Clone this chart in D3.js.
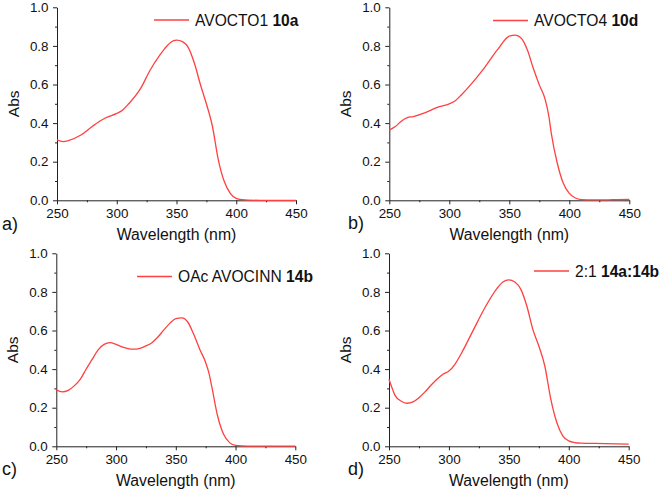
<!DOCTYPE html>
<html><head><meta charset="utf-8">
<script src="https://cdn.jsdelivr.net/npm/d3@7"></script>
<style>
html,body{margin:0;padding:0;background:#fff;}
svg{display:block;font-family:"Liberation Sans",Arial,sans-serif;}
</style></head>
<body>
<svg id="chart" width="661" height="493"></svg>
<script>
// ---- data ----
const wlA = [250,255,260,270,280,290,300,305,310,320,328,336,340,345,350,355,360,365,370,375,380,385,390,395,400,405,410,420,430,440,450];
const absA = [0.313,0.304,0.310,0.338,0.385,0.425,0.450,0.468,0.500,0.580,0.675,0.752,0.785,0.818,0.830,0.822,0.790,0.710,0.600,0.500,0.385,0.210,0.097,0.036,0.010,0.003,0.001,0.000,0.000,0.000,0.000];

const wlB = [250,255,260,265,270,280,290,300,305,310,320,330,340,350,355,360,365,370,375,380,383,385,390,395,400,405,410,420,430,440,450];
const absB = [0.364,0.382,0.410,0.428,0.434,0.454,0.482,0.500,0.516,0.546,0.615,0.693,0.779,0.851,0.856,0.840,0.780,0.684,0.598,0.520,0.434,0.347,0.192,0.088,0.036,0.012,0.004,0.002,0.002,0.004,0.005];

const wlC = [250,255,260,265,270,275,280,285,290,295,300,305,310,315,320,325,330,335,340,345,350,355,360,365,370,375,378,380,385,390,395,400,410,420,430,440,450];
const absC = [0.292,0.282,0.290,0.313,0.347,0.400,0.450,0.500,0.528,0.537,0.528,0.515,0.506,0.503,0.508,0.520,0.537,0.566,0.603,0.637,0.661,0.665,0.644,0.580,0.503,0.434,0.373,0.313,0.157,0.062,0.019,0.005,0.001,0.001,0.001,0.001,0.001];

const wlD = [250,253,255,260,265,270,275,280,285,290,295,300,305,310,320,330,340,345,350,355,360,365,370,375,380,385,390,395,400,405,410,430,450];
const absD = [0.347,0.295,0.264,0.235,0.223,0.230,0.252,0.282,0.316,0.347,0.373,0.390,0.425,0.477,0.598,0.718,0.817,0.851,0.862,0.851,0.813,0.727,0.606,0.520,0.416,0.244,0.123,0.054,0.028,0.019,0.016,0.014,0.011];

const xTicks = [250,300,350,400,450];
const xMinor = [275,325,375,425];
const yTicks = [0,0.2,0.4,0.6,0.8,1.0];
const yMinor = [0.1,0.3,0.5,0.7,0.9];
const xTitle = "Wavelength (nm)";
const yTitle = "Abs";

const panels = [
  {wl: wlA, abs: absA, name: "AVOCTO1 ", bold: "10a", tag: "a)"},
  {wl: wlB, abs: absB, name: "AVOCTO4 ", bold: "10d", tag: "b)"},
  {wl: wlC, abs: absC, name: "OAc AVOCINN ", bold: "14b", tag: "c)"},
  {wl: wlD, abs: absD, name: "2:1 ", bold: "14a:14b", tag: "d)"}
];

// ---- layout ----
const layout = [
  {x0: 57,    x1: 296,   y0: 200.3, y1: 7.3,   legX: 154, legY: 20,  tagX: 2,   tagY: 230},
  {x0: 389.3, x1: 629.3, y0: 200.3, y1: 7.3,   legX: 493, legY: 20.5, tagX: 348, tagY: 229},
  {x0: 56.3,  x1: 295.3, y0: 446.3, y1: 253.3, legX: 137, legY: 276.5, tagX: 2,  tagY: 475},
  {x0: 389,   x1: 628.7, y0: 446.3, y1: 253.3, legX: 534, legY: 271, tagX: 348, tagY: 475}
];

const svg = d3.select("#chart");
const red = "#ff4040";

panels.forEach((p, i) => {
  const L = layout[i];
  const x = d3.scaleLinear().domain([250, 450]).range([L.x0, L.x1]);
  const y = d3.scaleLinear().domain([0, 1]).range([L.y0, L.y1]);
  const g = svg.append("g");

  // minor ticks
  g.append("g").attr("transform", `translate(0,${L.y0})`)
    .call(d3.axisBottom(x).tickValues(xMinor).tickSize(2).tickSizeOuter(0).tickFormat(""))
    .call(a => a.select(".domain").remove());
  g.append("g").attr("transform", `translate(${L.x0},0)`)
    .call(d3.axisLeft(y).tickValues(yMinor).tickSize(2).tickSizeOuter(0).tickFormat(""))
    .call(a => a.select(".domain").remove());

  const xa = g.append("g").attr("transform", `translate(0,${L.y0})`)
    .call(d3.axisBottom(x).tickValues(xTicks).tickSize(4).tickSizeOuter(0).tickPadding(4.5).tickFormat(d3.format("d")));
  const ya = g.append("g").attr("transform", `translate(${L.x0},0)`)
    .call(d3.axisLeft(y).tickValues(yTicks).tickSize(4).tickSizeOuter(0).tickPadding(4.5).tickFormat(d3.format(".1f")));
  [xa, ya].forEach(a => {
    a.selectAll("text").attr("font-size", "13.4px").attr("fill", "#111").attr("font-family", "Liberation Sans, Arial, sans-serif");
    a.selectAll("line,path").attr("stroke", "#222").attr("stroke-width", 1);
  });
  g.selectAll(".tick line").attr("stroke", "#222");

  // titles
  g.append("text").attr("x", (L.x0 + L.x1) / 2).attr("y", L.y0 + 40)
    .attr("text-anchor", "middle").attr("font-size", "15.8px").attr("fill", "#111").text(xTitle);
  g.append("text").attr("transform", `translate(${L.x0 - 38.5},${(L.y0 + L.y1) / 2}) rotate(-90)`)
    .attr("text-anchor", "middle").attr("font-size", "15.5px").attr("fill", "#111").text(yTitle);

  // panel tag
  g.append("text").attr("x", L.tagX).attr("y", L.tagY).attr("font-size", "18px").attr("fill", "#111").text(p.tag);

  // line
  const data = p.wl.map((w, k) => [w, p.abs[k]]);
  g.append("path").datum(data)
    .attr("fill", "none").attr("stroke", red).attr("stroke-width", 1.3)
    .attr("d", d3.line().x(d => x(d[0])).y(d => y(d[1])).curve(d3.curveMonotoneX));

  // legend
  g.append("line").attr("x1", L.legX).attr("x2", L.legX + 35).attr("y1", L.legY).attr("y2", L.legY)
    .attr("stroke", red).attr("stroke-width", 1.3);
  const t = g.append("text").attr("x", L.legX + 41).attr("y", L.legY + 5.5).attr("font-size", "15.6px").attr("fill", "#111");
  t.append("tspan").text(p.name);
  t.append("tspan").attr("font-weight", "bold").text(p.bold);
});
</script>
</body></html>
